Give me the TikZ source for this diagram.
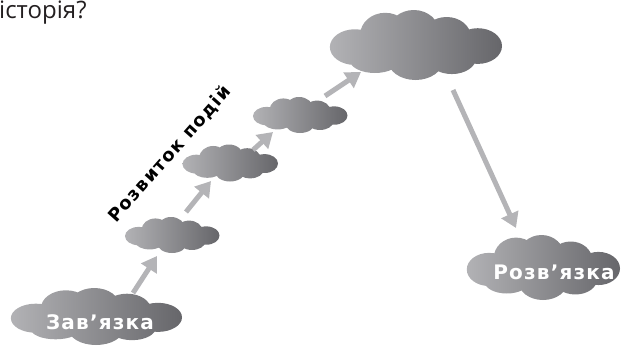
\documentclass[tikz,border=0pt]{standalone}
\usepackage{fontspec}
\setmainfont{DejaVu Sans}
\newfontfamily\topfont{Open Sans}
\newfontfamily\lblfont[LetterSpace=6]{DejaVu Sans Bold}
\newfontfamily\devfont[LetterSpace=7]{DejaVu Sans Bold}
\usetikzlibrary{arrows.meta}
\definecolor{cloudL}{RGB}{178,178,181}
\definecolor{cloudR}{RGB}{102,102,106}
\definecolor{arrowgray}{RGB}{180,180,183}
\definecolor{ink}{RGB}{35,31,32}
\newcommand\cloudshape[4]{%
  \begin{scope}[shift={(#1,#2)}, xscale=#3/2, yscale=-#4/2]
    \shade[left color=cloudL, right color=cloudR]
      (-0.70,-0.06) ellipse [x radius=0.29, y radius=0.51]
      (-0.35,0.29) ellipse [x radius=0.29, y radius=0.63]
      (-0.02,0.34) ellipse [x radius=0.30, y radius=0.66]
      (0.36,0.23) ellipse [x radius=0.28, y radius=0.57]
      (0.72,-0.03) ellipse [x radius=0.28, y radius=0.51]
      (-0.47,-0.43) ellipse [x radius=0.29, y radius=0.37]
      (0.0,-0.43) ellipse [x radius=0.32, y radius=0.57]
      (0.42,-0.37) ellipse [x radius=0.28, y radius=0.46]
      (0,0) ellipse [x radius=0.6, y radius=0.5];
  \end{scope}}
\tikzset{
  arr/.style={draw=arrowgray, line width=5pt, -{Triangle[width=18pt,length=15pt]}},
  lbl/.style={text=white, inner sep=0pt, font=\lblfont\fontsize{20}{20}\selectfont},
}
\begin{document}
\begin{tikzpicture}[x=1pt, y=-1pt]
\useasboundingbox (0,0) rectangle (638,351);
\node[anchor=base west, inner sep=0pt, text=ink, font=\topfont\fontsize{24}{24}\selectfont] (title) at (-1,18) {історія?};
% clouds
\cloudshape{96}{316.5}{172}{57}
\cloudshape{172}{235}{95}{36}
\cloudshape{230}{163}{96}{37}
\cloudshape{300}{115}{95}{36}
\cloudshape{415.5}{45}{173}{70}
\cloudshape{543}{267.5}{154}{65}
\node[lbl] (c1) at (100,322) {Зав’язка};
\coordinate (c2) at (172,235);
\coordinate (c3) at (230,163);
\coordinate (c4) at (300,115);
\coordinate (c5) at (415.5,45);
\node[lbl] (c6) at (554,272) {Розв’язка};
\node[rotate=48.4, inner sep=0pt, text=black, font=\devfont\fontsize{18}{18}\selectfont] (dev) at (170,154) {Розвиток подій};
% arrows
\coordinate (a1s) at (133,293); \coordinate (a1e) at (157,256);
\coordinate (a2s) at (186,212); \coordinate (a2e) at (211,181);
\coordinate (a3s) at (253,150); \coordinate (a3e) at (273,132);
\coordinate (a4s) at (325,96);  \coordinate (a4e) at (361,72);
\coordinate (a5s) at (453,90);  \coordinate (a5e) at (516,228);
\draw[arr] (a1s) -- (a1e);
\draw[arr] (a2s) -- (a2e);
\draw[arr] (a3s) -- (a3e);
\draw[arr] (a4s) -- (a4e);
\draw[arr] (a5s) -- (a5e);
\end{tikzpicture}
\end{document}
